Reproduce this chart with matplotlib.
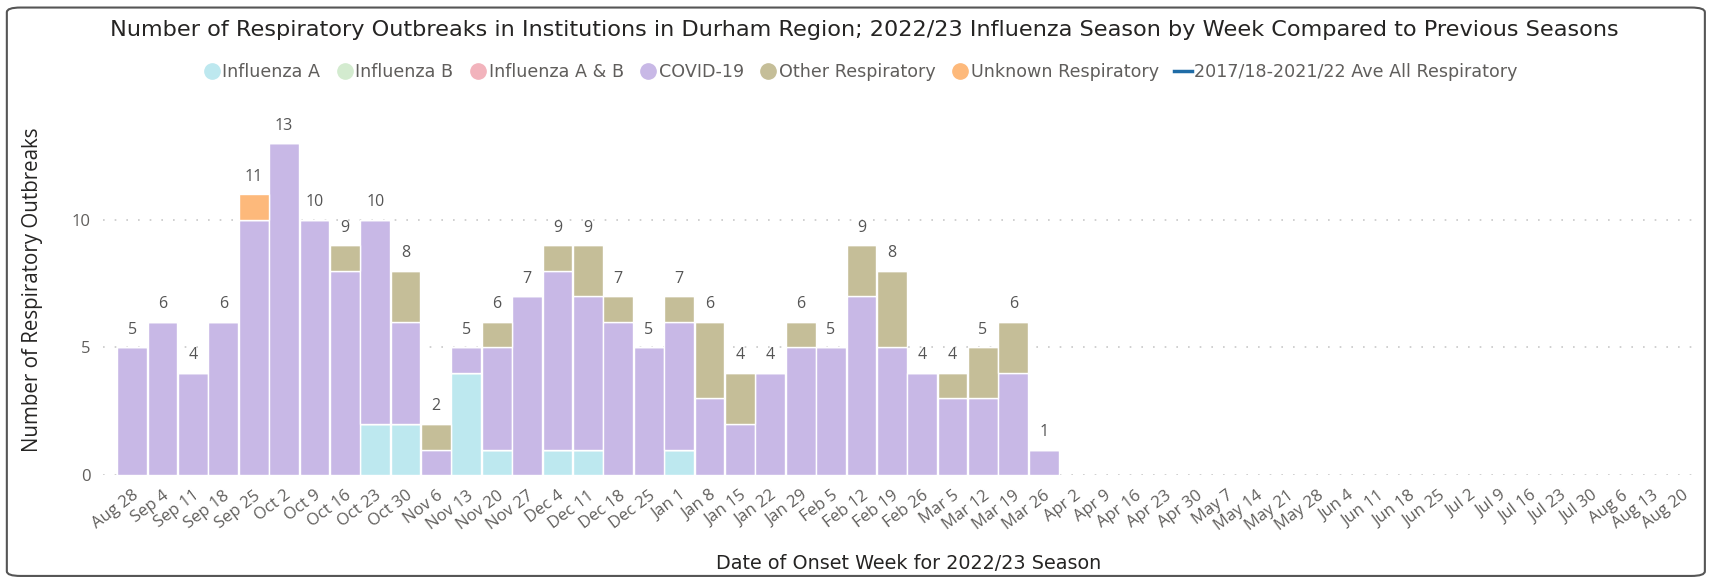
import matplotlib
matplotlib.use("Agg")
import matplotlib.pyplot as plt
import matplotlib.transforms as mtransforms
from matplotlib.lines import Line2D
from matplotlib.patches import FancyBboxPatch
import numpy as np

# semanas da temporada 2022/23
weeks = ["Aug 28", "Sep 4", "Sep 11", "Sep 18", "Sep 25", "Oct 2", "Oct 9", "Oct 16",
         "Oct 23", "Oct 30", "Nov 6", "Nov 13", "Nov 20", "Nov 27", "Dec 4", "Dec 11",
         "Dec 18", "Dec 25", "Jan 1", "Jan 8", "Jan 15", "Jan 22", "Jan 29", "Feb 5",
         "Feb 12", "Feb 19", "Feb 26", "Mar 5", "Mar 12", "Mar 19", "Mar 26", "Apr 2",
         "Apr 9", "Apr 16", "Apr 23", "Apr 30", "May 7", "May 14", "May 21", "May 28",
         "Jun 4", "Jun 11", "Jun 18", "Jun 25", "Jul 2", "Jul 9", "Jul 16", "Jul 23",
         "Jul 30", "Aug 6", "Aug 13", "Aug 20"]

# surtos por tipo (semanas com dados: Aug 28 .. Mar 26)
flu_a = [0, 0, 0, 0, 0, 0, 0, 0, 2, 2, 0, 4, 1, 0, 1, 1, 0, 0, 1, 0, 0, 0, 0, 0, 0, 0, 0, 0, 0, 0, 0]
flu_b = [0] * 31
flu_ab = [0] * 31
covid = [5, 6, 4, 6, 10, 13, 10, 8, 8, 4, 1, 1, 4, 7, 7, 6, 6, 5, 5, 3, 2, 4, 5, 5, 7, 5, 4, 3, 3, 4, 1]
other = [0, 0, 0, 0, 0, 0, 0, 1, 0, 2, 1, 0, 1, 0, 1, 2, 1, 0, 1, 3, 2, 0, 1, 0, 2, 3, 0, 1, 2, 2, 0]
unknown = [0, 0, 0, 0, 1, 0, 0, 0, 0, 0, 0, 0, 0, 0, 0, 0, 0, 0, 0, 0, 0, 0, 0, 0, 0, 0, 0, 0, 0, 0, 0]

series = [("Influenza A", flu_a, "#BDE8EF"),
          ("Influenza B", flu_b, "#D3EBCF"),
          ("Influenza A & B", flu_ab, "#F2B3BC"),
          ("COVID-19", covid, "#C8B8E6"),
          ("Other Respiratory", other, "#C5BE98"),
          ("Unknown Respiratory", unknown, "#FDB97B")]
line_label = "2017/18-2021/22 Ave All Respiratory"
line_color = "#1F6CA6"

label_font = "Open Sans"
title_font = "DejaVu Sans"
gray = "#605E5C"
dark = "#252423"

fig = plt.figure(figsize=(17.1, 5.8), dpi=100)
ax = fig.add_axes([0.0602, 0.181, 0.934, 0.638])

x = np.arange(len(covid))
bottom = np.zeros(len(covid))
for name, vals, col in series:
    v = np.array(vals, dtype=float)
    ax.bar(x, v, width=0.98, bottom=bottom, color=col, edgecolor="white", linewidth=1.0)
    bottom += v

for xi, tot in zip(x, bottom):
    ax.annotate(str(int(tot)), (xi, tot), xytext=(0, 7), textcoords="offset points",
                ha="center", va="bottom", fontsize=11.5, color="#555555", family=label_font)

ax.set_xlim(-0.96, 51.6)
ax.set_ylim(0, 14.5)
ax.set_yticks([0, 5, 10])
ax.grid(axis="y", color="#C8C8C8", linestyle=(0, (1, 6)), linewidth=1.2)
ax.set_axisbelow(True)
for s in ax.spines.values():
    s.set_visible(False)

ax.set_xticks(np.arange(len(weeks)))
ax.set_xticklabels(weeks, rotation=37, rotation_mode="anchor", ha="right", va="top",
                   fontsize=12, color=gray, family=label_font)
shift = mtransforms.ScaledTranslation(-5 / 72, 0, fig.dpi_scale_trans)
for lab in ax.get_xticklabels():
    lab.set_transform(lab.get_transform() + shift)
ax.tick_params(axis="x", length=0, pad=9)
ax.tick_params(axis="y", length=0, pad=9, labelsize=12, labelcolor=gray)
for lab in ax.get_yticklabels():
    lab.set_family(label_font)

fig.text(0.019, 0.5, "Number of Respiratory Outbreaks", rotation=90, ha="center", va="center",
         fontsize=14.8, color=dark, family=label_font)
fig.text(0.5313, 0.028, "Date of Onset Week for 2022/23 Season", ha="center", va="center",
         fontsize=13.8, color=dark, family=title_font)
fig.text(0.5055, 0.948, "Number of Respiratory Outbreaks in Institutions in Durham Region; "
         "2022/23 Influenza Season by Week Compared to Previous Seasons",
         ha="center", va="center", fontsize=16.1, color=dark, family=title_font)

handles = [Line2D([], [], marker="o", linestyle="none", markersize=11, color=col)
           for _, _, col in series]
handles.append(Line2D([], [], color=line_color, linewidth=2.5))
labels = [name for name, _, _ in series] + [line_label]
fig.legend(handles, labels, loc="center", bbox_to_anchor=(0.503, 0.876), ncol=7,
           frameon=False, handlelength=1.0, handletextpad=0.1, columnspacing=0.9,
           prop={"family": title_font, "size": 12.6}, labelcolor=gray)

frame = FancyBboxPatch((0.004, 0.007), 0.993, 0.98, boxstyle="round,pad=0,rounding_size=0.008",
                       transform=fig.transFigure, fill=False, edgecolor="#555555", linewidth=1.5)
fig.patches.append(frame)

fig.savefig("out.png", dpi=100)
